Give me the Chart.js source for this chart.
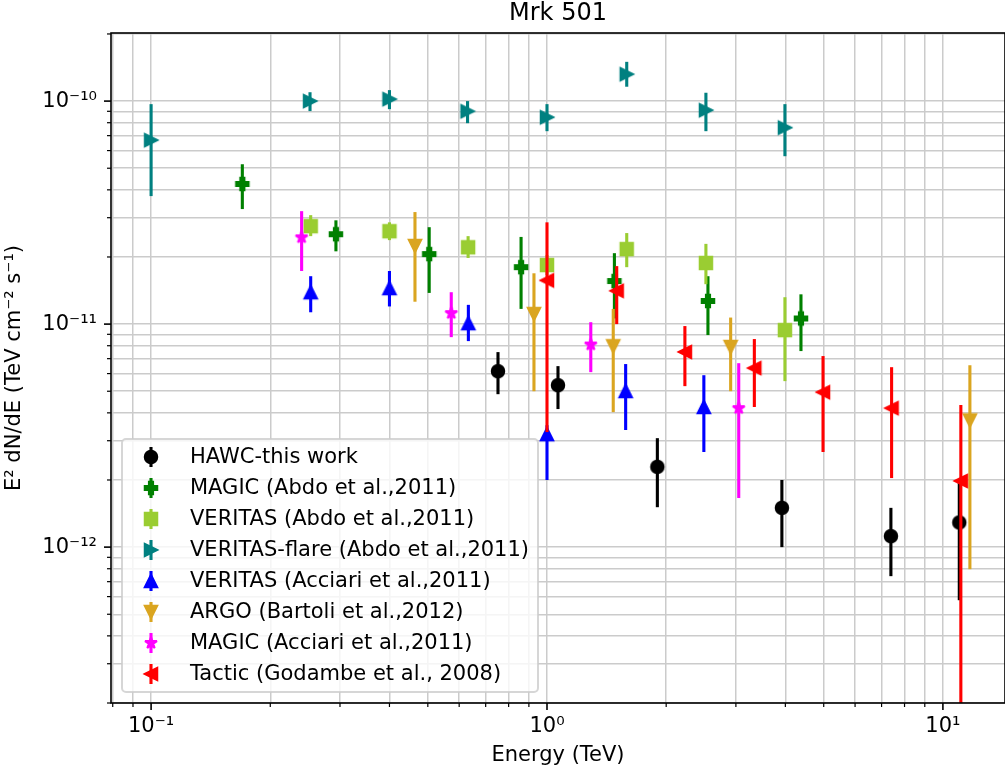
<!DOCTYPE html>
<html>
<head>
<meta charset="utf-8">
<title>Mrk 501</title>
<script src="https://cdn.jsdelivr.net/npm/chart.js@4.4.1/dist/chart.umd.min.js"></script>
<style>
  html, body { margin: 0; padding: 0; background: #fff; }
  #sed { display: block; }
</style>
</head>
<body>
<canvas id="sed" width="1005" height="773"></canvas>
<script>
// HAWC-this work
const hawcE = [0.752, 1.066, 1.90, 3.92, 7.39, 11.0];
const hawcF = [6.15e-12, 5.32e-12, 2.29e-12, 1.50e-12, 1.12e-12, 1.29e-12];
const hawcLo = [4.85e-12, 4.16e-12, 1.51e-12, 1.0e-12, 7.41e-13, 5.78e-13];
const hawcHi = [7.49e-12, 6.48e-12, 3.08e-12, 2.0e-12, 1.50e-12, 1.94e-12];

// MAGIC (Abdo et al.,2011)
const magicAbdoE = [0.17, 0.293, 0.504, 0.86, 1.48, 2.55, 4.38];
const magicAbdoF = [4.25e-11, 2.53e-11, 2.06e-11, 1.80e-11, 1.56e-11, 1.27e-11, 1.06e-11];
const magicAbdoLo = [3.28e-11, 2.12e-11, 1.38e-11, 1.17e-11, 1.06e-11, 8.93e-12, 7.57e-12];
const magicAbdoHi = [5.21e-11, 2.92e-11, 2.72e-11, 2.46e-11, 2.08e-11, 1.64e-11, 1.36e-11];

// VERITAS (Abdo et al.,2011)
const veritasAbdoE = [0.253, 0.40, 0.632, 1.0, 1.59, 2.52, 3.99];
const veritasAbdoF = [2.75e-11, 2.61e-11, 2.21e-11, 1.84e-11, 2.17e-11, 1.88e-11, 9.4e-12];
const veritasAbdoLo = [2.48e-11, 2.38e-11, 1.98e-11, 1.66e-11, 1.80e-11, 1.51e-11, 5.55e-12];
const veritasAbdoHi = [3.08e-11, 2.86e-11, 2.48e-11, 2.04e-11, 2.56e-11, 2.29e-11, 1.32e-11];

// VERITAS-flare (Abdo et al.,2011)
const flareE = [0.1, 0.252, 0.40, 0.63, 1.0, 1.59, 2.52, 3.99];
const flareF = [6.68e-11, 1.0e-10, 1.02e-10, 9.0e-11, 8.46e-11, 1.32e-10, 9.1e-11, 7.6e-11];
const flareLo = [3.75e-11, 9.02e-11, 9.2e-11, 7.96e-11, 7.33e-11, 1.16e-10, 7.33e-11, 5.66e-11];
const flareHi = [9.69e-11, 1.096e-10, 1.12e-10, 1.0e-10, 9.69e-11, 1.50e-10, 1.09e-10, 9.69e-11];

// VERITAS (Acciari et al.,2011)
const veritasAccE = [0.253, 0.40, 0.633, 1.0, 1.58, 2.49];
const veritasAccF = [1.39e-11, 1.45e-11, 1.01e-11, 3.21e-12, 5.01e-12, 4.25e-12];
const veritasAccLo = [1.13e-11, 1.20e-11, 8.39e-12, 2.0e-12, 3.35e-12, 2.67e-12];
const veritasAccHi = [1.64e-11, 1.73e-11, 1.22e-11, 3.52e-12, 6.62e-12, 5.9e-12];

// ARGO (Bartoli et al.,2012)
const argoE = [0.464, 0.927, 1.47, 2.91, 11.7];
const argoF = [2.24e-11, 1.11e-11, 7.96e-12, 7.9e-12, 3.7e-12];
const argoLo = [1.26e-11, 5.0e-12, 4.03e-12, 5.0e-12, 7.96e-13];
const argoHi = [3.18e-11, 1.69e-11, 1.17e-11, 1.07e-11, 6.54e-12];

// MAGIC (Acciari et al.,2011)
const magicAccE = [0.24, 0.573, 1.29, 3.05];
const magicAccF = [2.45e-11, 1.12e-11, 8.1e-12, 4.2e-12];
const magicAccLo = [1.73e-11, 8.74e-12, 6.09e-12, 1.66e-12];
const magicAccHi = [3.21e-11, 1.39e-11, 1.02e-11, 6.68e-12];

// Tactic (Godambe et al., 2008)
const tacticE = [1.0, 1.50, 2.23, 3.34, 4.98, 7.42, 11.1];
const tacticF = [1.57e-11, 1.41e-11, 7.5e-12, 6.35e-12, 4.95e-12, 4.2e-12, 1.98e-12];
const tacticLo = [3.28e-12, 1.0e-11, 5.27e-12, 4.25e-12, 2.67e-12, 2.04e-12, 1e-13];
const tacticHi = [2.86e-11, 1.82e-11, 9.8e-12, 8.57e-12, 7.19e-12, 6.41e-12, 4.34e-12];

const xTickValues = [0.1, 1, 10];
const xTickLabels = ['10⁻¹', '10⁰', '10¹'];
const yTickValues = [1e-12, 1e-11, 1e-10];
const yTickLabels = ['10⁻¹²', '10⁻¹¹', '10⁻¹⁰'];

const FONT = 'DejaVu Sans';
const FS = 21;     // base font size, px
const MS = 12.5;   // marker size, px

// matplotlib-like filled markers drawn into small canvases
function makeMarker(shape, color) {
  const size = 20;
  const c = document.createElement('canvas');
  c.width = size;
  c.height = size;
  const g = c.getContext('2d');
  const h = MS / 2;
  g.translate(size / 2, size / 2);
  g.fillStyle = color;
  g.strokeStyle = color;
  g.lineWidth = 2;
  g.lineJoin = 'miter';
  g.beginPath();
  let pts = null;
  if (shape === 'o') {
    g.arc(0, 0, h, 0, Math.PI * 2);
  } else if (shape === 's') {
    pts = [[-h, -h], [h, -h], [h, h], [-h, h]];
  } else if (shape === '^') {
    pts = [[0, -h], [-h, h], [h, h]];
  } else if (shape === 'v') {
    pts = [[0, h], [-h, -h], [h, -h]];
  } else if (shape === '>') {
    pts = [[h, 0], [-h, -h], [-h, h]];
  } else if (shape === '<') {
    pts = [[-h, 0], [h, -h], [h, h]];
  } else if (shape === 'P') {
    const u = MS / 6;
    pts = [[-1, -3], [1, -3], [1, -1], [3, -1], [3, 1], [1, 1], [1, 3], [-1, 3], [-1, 1], [-3, 1], [-3, -1], [-1, -1]]
      .map(p => [p[0] * u, p[1] * u]);
  } else if (shape === '*') {
    pts = [];
    g.lineJoin = 'bevel';
    for (let i = 0; i < 10; i++) {
      const a = -Math.PI / 2 + i * Math.PI / 5;
      const r = i % 2 === 0 ? h : h * 0.381966;
      pts.push([r * Math.cos(a), r * Math.sin(a)]);
    }
  }
  if (pts) {
    g.moveTo(pts[0][0], pts[0][1]);
    pts.slice(1).forEach(p => g.lineTo(p[0], p[1]));
    g.closePath();
  }
  g.fill();
  g.stroke();
  return c;
}

function series(label, color, shape, xs, ys, lo, hi) {
  const marker = makeMarker(shape, color);
  return {
    label: label,
    data: xs.map((x, i) => ({ x: x, y: ys[i] })),
    errLow: lo,
    errHigh: hi,
    barColor: color,
    marker: marker,
    pointStyle: marker,
    pointRadius: 7,
    pointHoverRadius: 7,
    backgroundColor: color,
    borderColor: color,
    showLine: false
  };
}

const datasets = [
  series('HAWC-this work', '#000000', 'o', hawcE, hawcF, hawcLo, hawcHi),
  series('MAGIC (Abdo et al.,2011)', '#008000', 'P', magicAbdoE, magicAbdoF, magicAbdoLo, magicAbdoHi),
  series('VERITAS (Abdo et al.,2011)', '#9acd32', 's', veritasAbdoE, veritasAbdoF, veritasAbdoLo, veritasAbdoHi),
  series('VERITAS-flare (Abdo et al.,2011)', '#008080', '>', flareE, flareF, flareLo, flareHi),
  series('VERITAS (Acciari et al.,2011)', '#0000ff', '^', veritasAccE, veritasAccF, veritasAccLo, veritasAccHi),
  series('ARGO (Bartoli et al.,2012)', '#daa520', 'v', argoE, argoF, argoLo, argoHi),
  series('MAGIC (Acciari et al.,2011)', '#ff00ff', '*', magicAccE, magicAccF, magicAccLo, magicAccHi),
  series('Tactic (Godambe et al., 2008)', '#ff0000', '<', tacticE, tacticF, tacticLo, tacticHi)
];
// later series on top, like matplotlib
datasets.forEach((d, i) => { d.order = datasets.length - i; });

function isDecade(v) {
  const l = Math.log10(v);
  return Math.abs(l - Math.round(l)) < 1e-6;
}

function logTicks(min, max) {
  const ticks = [];
  for (let e = Math.floor(Math.log10(min)); e <= Math.ceil(Math.log10(max)); e++) {
    for (let m = 1; m <= 9; m++) {
      const v = Number(m + 'e' + e);
      if (v >= min * (1 - 1e-9) && v <= max * (1 + 1e-9)) ticks.push({ value: v, major: m === 1 });
    }
  }
  return ticks;
}

function tickLabel(v, values, labels) {
  const i = values.findIndex(t => Math.abs(Math.log10(t) - Math.log10(v)) < 1e-6);
  return i >= 0 ? labels[i] : '';
}

// vertical error bars, drawn just before each dataset's markers
const errorBars = {
  id: 'errorBars',
  beforeDatasetDraw(chart, args) {
    const ds = chart.data.datasets[args.index];
    const { ctx, chartArea, scales } = chart;
    ctx.save();
    ctx.beginPath();
    ctx.rect(chartArea.left, chartArea.top, chartArea.width, chartArea.height);
    ctx.clip();
    ctx.strokeStyle = ds.barColor;
    ctx.lineWidth = 3.1;
    ds.data.forEach((p, i) => {
      const x = scales.x.getPixelForValue(p.x);
      ctx.beginPath();
      ctx.moveTo(x, scales.y.getPixelForValue(ds.errLow[i]));
      ctx.lineTo(x, scales.y.getPixelForValue(ds.errHigh[i]));
      ctx.stroke();
    });
    ctx.restore();
  }
};

// spines, tick marks, title and legend
const decorations = {
  id: 'decorations',
  afterDatasetsDraw(chart) {
    const { ctx, chartArea: a, scales } = chart;
    ctx.save();

    // legend
    const bx = a.left + 11, by = a.bottom - 11 - 253, bw = 416, bh = 253;
    ctx.beginPath();
    ctx.roundRect(bx, by, bw, bh, 4);
    ctx.fillStyle = 'rgba(255,255,255,0.8)';
    ctx.fill();
    ctx.strokeStyle = 'rgba(204,204,204,0.8)';
    ctx.lineWidth = 2;
    ctx.stroke();
    ctx.font = FS + 'px "' + FONT + '"';
    ctx.textBaseline = 'middle';
    ctx.textAlign = 'left';
    chart.data.datasets.forEach((ds, i) => {
      const y = by + 18 + i * 31;
      const mx = bx + 29;
      ctx.strokeStyle = ds.barColor;
      ctx.lineWidth = 3.1;
      ctx.beginPath();
      ctx.moveTo(mx, y - 10);
      ctx.lineTo(mx, y + 10);
      ctx.stroke();
      ctx.drawImage(ds.marker, mx - ds.marker.width / 2, y - ds.marker.height / 2);
      ctx.fillStyle = '#000';
      ctx.fillText(ds.label, bx + 68, y + 1);
    });

    // spines
    ctx.strokeStyle = '#000';
    ctx.lineWidth = 1.6;
    ctx.strokeRect(a.left, a.top, a.right - a.left, a.bottom - a.top);

    // tick marks, minor ones shorter
    scales.x.ticks.forEach(t => {
      const x = scales.x.getPixelForValue(t.value);
      const major = isDecade(t.value);
      ctx.lineWidth = major ? 1.6 : 1.2;
      ctx.beginPath();
      ctx.moveTo(x, a.bottom);
      ctx.lineTo(x, a.bottom + (major ? 7 : 4));
      ctx.stroke();
    });
    scales.y.ticks.forEach(t => {
      const y = scales.y.getPixelForValue(t.value);
      const major = isDecade(t.value);
      ctx.lineWidth = major ? 1.6 : 1.2;
      ctx.beginPath();
      ctx.moveTo(a.left, y);
      ctx.lineTo(a.left - (major ? 7 : 4), y);
      ctx.stroke();
    });

    // title
    ctx.fillStyle = '#000';
    ctx.font = '24px "' + FONT + '"';
    ctx.textAlign = 'center';
    ctx.fillText('Mrk 501', (a.left + a.right) / 2, 14);
    ctx.restore();
  }
};

Chart.defaults.font.family = FONT;
Chart.defaults.color = '#000';

const gridColor = '#cbcbcb';

new Chart(document.getElementById('sed'), {
  type: 'scatter',
  data: { datasets: datasets },
  plugins: [errorBars, decorations],
  options: {
    responsive: false,
    devicePixelRatio: 1,
    animation: false,
    events: [],
    layout: { autoPadding: false, padding: { top: 33, right: 0, bottom: 0, left: 0 } },
    plugins: {
      legend: { display: false },
      tooltip: { enabled: false },
      title: { display: false }
    },
    scales: {
      x: {
        type: 'logarithmic',
        min: 0.0792,
        max: 14.35,
        afterBuildTicks: s => { s.ticks = logTicks(s.min, s.max); },
        afterFit: s => { s.height = 70; s.paddingLeft = 0; s.paddingRight = 0; },
        ticks: {
          autoSkip: false,
          maxRotation: 0,
          padding: 11,
          font: { size: FS },
          callback: v => tickLabel(v, xTickValues, xTickLabels)
        },
        grid: { color: gridColor, lineWidth: 1.5, drawTicks: false },
        border: { display: false },
        title: { display: true, text: 'Energy (TeV)', font: { size: FS }, padding: { top: 0, bottom: 5 } }
      },
      y: {
        type: 'logarithmic',
        min: 2.0e-13,
        max: 2.02e-10,
        afterBuildTicks: s => { s.ticks = logTicks(s.min, s.max); },
        afterFit: s => { s.width = 111; s.paddingTop = 0; s.paddingBottom = 0; },
        ticks: {
          autoSkip: false,
          padding: 14,
          font: { size: FS },
          callback: v => tickLabel(v, yTickValues, yTickLabels)
        },
        grid: { color: gridColor, lineWidth: 1.5, drawTicks: false },
        border: { display: false },
        title: { display: true, text: 'E² dN/dE (TeV cm⁻² s⁻¹)', font: { size: FS }, padding: { top: 2, bottom: 0 } }
      }
    }
  }
});
</script>
</body>
</html>
